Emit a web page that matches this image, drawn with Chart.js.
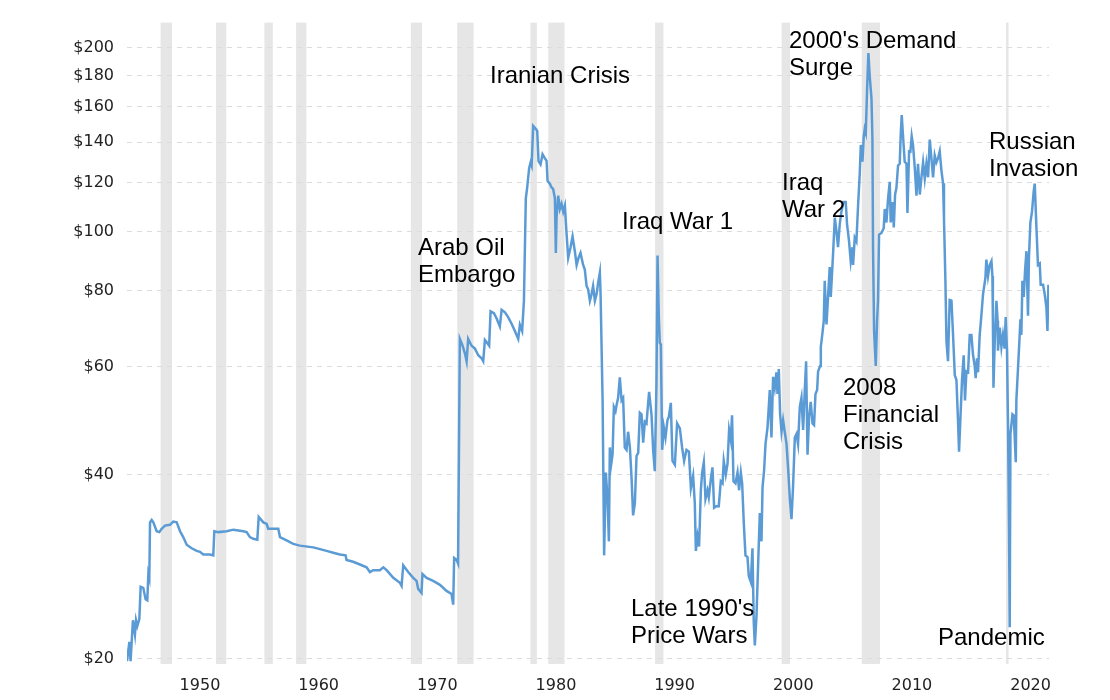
<!DOCTYPE html>
<html>
<head>
<meta charset="utf-8">
<script src="https://cdn.jsdelivr.net/npm/chart.js@4/dist/chart.umd.min.js"></script>
<style>
  html, body { margin: 0; padding: 0; background: #ffffff; }
  #wrap { width: 1110px; height: 700px; }
</style>
</head>
<body>
<div id="wrap"><canvas id="c" width="1110" height="700"></canvas></div>
<script>
// Decimal years of each observation
const years = [
  1946.0,1946.2,1946.3,1946.5,1946.67,1946.76,1946.87,1947.04,1947.15,1947.37,1947.57,1947.71,1947.8,1947.88,1947.94,
  1948.08,1948.22,1948.5,1948.72,1948.92,1949.2,1949.62,1949.9,1950.19,1950.47,1950.74,1951.03,1951.45,1951.87,
  1952.15,1952.43,1952.99,1953.27,1953.36,1953.69,1954.4,1954.96,1955.38,1955.8,1956.08,1956.36,1956.64,1956.98,
  1957.1,1957.49,1957.77,1957.9,1958.75,1958.89,1959.45,1960.01,1960.57,1961.7,1962.26,1962.82,1963.38,1963.94,
  1964.42,1964.5,1965.06,1965.63,1966.19,1966.47,1966.75,1967.31,1967.6,1967.88,1968.44,1969.0,1969.14,1969.28,
  1969.7,1970.12,1970.4,1970.54,1970.82,1970.9,1971.25,1971.8,1972.37,1972.93,1973.35,1973.49,1973.57,1973.77,1973.9,
  1974.05,1974.28,1974.48,1974.62,1974.75,1975.04,1975.32,1975.6,1975.88,1976.02,1976.16,1976.35,1976.52,1976.64,
  1976.92,1977.15,1977.42,1977.57,1977.85,1978.12,1978.41,1978.69,1978.97,1979.11,1979.3,1979.45,1979.61,1979.72,
  1979.89,1980.01,1980.1,1980.23,1980.46,1980.57,1980.68,1980.85,1981.02,1981.21,1981.36,1981.44,1981.64,1981.78,
  1981.91,1982.06,1982.14,1982.2,1982.34,1982.48,1982.62,1982.76,1982.9,1983.04,1983.18,1983.38,1983.55,1983.74,
  1983.89,1984.05,1984.22,1984.44,1984.58,1984.73,1984.86,1985.01,1985.15,1985.28,1985.43,1985.57,1985.71,1985.85,
  1985.91,1986.08,1986.21,1986.35,1986.5,1986.61,1986.69,1986.8,1986.92,1987.03,1987.17,1987.26,1987.39,1987.53,
  1987.68,1987.81,1987.95,1988.1,1988.23,1988.38,1988.52,1988.65,1988.8,1988.94,1989.08,1989.22,1989.36,1989.5,
  1989.64,1989.78,1989.92,1990.0,1990.2,1990.34,1990.48,1990.62,1990.71,1990.82,1990.9,1990.99,1991.1,1991.24,
  1991.38,1991.55,1991.66,1991.83,1991.97,1992.17,1992.36,1992.59,1992.78,1992.95,1993.15,1993.35,1993.52,1993.71,
  1993.85,1993.94,1994.08,1994.21,1994.36,1994.47,1994.61,1994.75,1994.92,1995.03,1995.2,1995.34,1995.48,1995.68,
  1995.87,1996.04,1996.19,1996.29,1996.46,1996.61,1996.74,1996.88,1996.99,1997.11,1997.28,1997.45,1997.58,1997.73,
  1997.84,1997.98,1998.12,1998.29,1998.4,1998.57,1998.71,1998.82,1998.91,1999.05,1999.19,1999.33,1999.47,1999.56,
  1999.69,1999.81,1999.98,2000.17,2000.31,2000.45,2000.59,2000.73,2000.82,2000.93,2001.04,2001.16,2001.29,2001.43,
  2001.58,2001.71,2001.86,2002.0,2002.13,2002.28,2002.42,2002.55,2002.7,2002.84,2002.98,2003.12,2003.23,2003.35,
  2003.48,2003.62,2003.77,2003.9,2004.02,2004.16,2004.24,2004.41,2004.47,2004.61,2004.72,2004.8,2004.95,2005.08,
  2005.22,2005.31,2005.5,2005.65,2005.79,2005.92,2006.07,2006.21,2006.38,2006.57,2006.68,2006.85,2006.99,2007.14,
  2007.19,2007.33,2007.47,2007.61,2007.75,2007.84,2007.98,2008.09,2008.17,2008.26,2008.37,2008.48,2008.59,2008.74,
  2008.82,2008.87,2008.96,2009.1,2009.21,2009.29,2009.38,2009.58,2009.77,2009.86,2010.0,2010.14,2010.28,2010.36,
  2010.51,2010.62,2010.73,2010.84,2010.98,2011.12,2011.21,2011.29,2011.4,2011.54,2011.69,2011.77,2011.91,2012.02,
  2012.13,2012.24,2012.39,2012.53,2012.66,2012.81,2012.95,2013.09,2013.23,2013.37,2013.51,2013.65,2013.79,2013.93,
  2014.07,2014.21,2014.35,2014.49,2014.63,2014.77,2014.85,2014.97,2015.06,2015.19,2015.33,2015.48,2015.61,2015.76,
  2015.9,2016.03,2016.12,2016.24,2016.37,2016.51,2016.62,2016.74,2016.88,2017.02,2017.16,2017.3,2017.44,2017.52,
  2017.63,2017.72,2017.86,2018.0,2018.14,2018.34,2018.42,2018.56,2018.7,2018.85,2018.93,2018.97,2019.02,2019.12,
  2019.27,2019.37,2019.4,2019.55,2019.69,2019.82,2019.96,2020.05,2020.16,2020.25,2020.33,2020.39,2020.45,2020.62,
  2020.73,2020.9,2020.95,2021.09,2021.23,2021.29,2021.37,2021.46,2021.57,2021.68,2021.8,2021.93,2022.01,2022.13,
  2022.27,2022.41,2022.5,2022.64,2022.77,2022.92,2023.0,2023.2,2023.34,2023.48,2023.57,2023.65
];

// Inflation-adjusted crude oil price (US$ per barrel)
const prices = [
  19.8,21.3,19.8,23.1,21.9,23.1,22.6,23.2,26.2,26.1,25.0,24.9,27.5,27.1,33.4,
  33.7,33.4,32.3,32.2,32.6,33.0,33.1,33.5,33.4,32.3,31.6,30.7,30.3,30.0,
  29.9,29.6,29.6,29.5,32.3,32.2,32.3,32.5,32.4,32.3,32.2,31.6,31.4,31.3,
  34.1,33.4,33.2,32.6,32.6,31.6,31.2,30.8,30.6,30.4,30.2,30.0,29.8,29.6,
  29.5,29.0,28.8,28.5,28.2,27.7,27.9,27.9,28.2,27.9,27.1,26.6,26.3,28.4,
  27.7,27.1,26.8,26.0,25.6,27.5,27.1,26.8,26.4,25.8,25.5,24.5,29.2,29.0,28.6,
  66.7,65.0,63.1,61.3,66.7,65.0,64.3,62.7,62.0,61.3,66.4,65.7,65.0,74.0,
  73.5,72.0,69.9,74.4,73.7,72.4,70.6,68.7,66.7,70.3,68.7,77.0,113.3,117.7,
  126.9,129.6,128.1,148.8,147.0,146.0,130.3,128.7,133.7,131.8,130.4,121.0,119.6,118.0,
  117.4,113.3,92.2,105.3,114.4,108.8,110.9,107.7,110.2,99.4,90.5,94.2,98.1,92.8,
  88.1,90.5,92.2,88.1,86.6,81.4,80.4,77.0,78.9,81.4,77.0,78.9,82.5,85.6,
  78.9,52.9,29.5,40.3,36.5,31.1,44.3,41.5,43.1,51.6,50.8,52.0,53.4,57.7,
  52.9,53.4,44.3,43.9,47.0,44.3,39.5,34.3,35.9,42.9,43.4,50.5,50.2,45.1,
  48.8,48.5,52.4,54.6,50.2,43.9,40.5,56.4,91.3,72.2,65.7,65.3,43.9,47.8,
  46.0,49.1,49.7,52.4,42.1,41.5,48.5,47.6,44.3,42.1,43.9,43.6,38.0,39.8,
  35.9,30.0,31.7,30.5,37.7,40.3,41.9,36.5,37.7,36.7,39.3,41.1,35.3,35.5,
  35.5,39.0,38.7,42.1,40.0,41.7,47.3,45.6,50.0,39.0,38.7,40.3,37.7,40.3,
  38.7,33.3,29.5,29.3,27.3,26.7,30.3,22.9,21.0,23.5,28.6,34.6,31.1,38.2,
  40.6,44.9,47.8,55.0,46.0,57.8,55.5,58.8,54.2,59.5,50.2,47.0,49.1,47.0,
  44.9,41.1,36.5,33.8,38.2,46.0,46.6,44.9,51.6,53.4,47.3,55.0,61.3,43.1,
  49.7,52.6,48.5,48.2,54.2,55.0,59.0,60.2,64.7,68.2,71.4,83.0,70.4,78.1,
  87.4,78.1,91.7,105.3,100.0,94.2,103.0,107.8,111.7,111.7,102.8,96.3,89.4,94.2,
  88.1,97.6,96.3,110.2,124.2,138.5,130.0,143.1,147.1,145.0,170.6,195.8,179.6,164.9,
  141.5,94.2,68.7,60.2,71.4,77.0,98.8,99.4,101.2,108.8,103.4,113.3,120.5,103.4,
  111.7,101.5,114.9,117.7,128.2,129.0,145.0,155.0,143.1,130.0,129.0,107.2,135.2,135.0,
  143.1,138.5,126.9,114.4,129.0,114.9,122.6,129.7,122.0,129.0,122.6,141.3,131.8,122.6,
  133.1,129.7,131.8,135.2,126.0,119.9,104.8,83.0,66.0,61.3,77.2,77.0,68.0,58.2,
  57.1,49.1,43.6,49.7,57.1,62.7,52.9,59.0,58.8,67.7,67.7,62.7,60.2,57.5,
  62.0,58.8,67.7,72.8,78.9,83.9,89.9,84.5,88.1,89.4,84.5,72.0,55.5,65.3,
  77.0,71.4,63.8,69.6,64.7,67.7,64.3,72.4,63.8,47.8,32.8,22.5,46.6,50.2,
  50.0,41.9,52.9,59.8,67.7,71.8,67.7,83.0,78.1,86.1,92.8,72.8,90.5,103.4,
  107.8,116.4,119.7,101.5,88.1,88.6,81.8,81.8,78.9,75.1,68.7,81.8
];

// NBER recessions (decimal years)
const recessionStart = [1948.83,1953.5,1957.58,1960.25,1969.92,1973.83,1980.0,1981.5,1990.5,2001.17,2007.92,2020.08];
const recessionEnd   = [1949.79,1954.37,1958.29,1961.12,1970.87,1975.21,1980.54,1982.87,1991.21,2001.87,2009.46,2020.29];

// Axis tick labels
const yearTicks  = [1950,1960,1970,1980,1990,2000,2010,2020];
const priceTicks = [20,40,60,80,100,120,140,160,180,200];

// Event annotations
const annotationLines = [
  ["Arab Oil","Embargo"],
  ["Iranian Crisis"],
  ["Iraq War 1"],
  ["Iraq","War 2"],
  ["2000's Demand","Surge"],
  ["2008","Financial","Crisis"],
  ["Russian","Invasion"],
  ["Late 1990's","Price Wars"],
  ["Pandemic"]
];
// pixel placement of each annotation block (left x, first baseline y)
const annotationPlace = [
  [418,255],[490,83],[622,229],[782,190],[789,47.5],[843,394.5],[989,149],[631,615.5],[938,645]
];

const bandsPlugin = {
  id: 'bands',
  beforeDraw(chart) {
    const {ctx, chartArea, scales} = chart;
    ctx.save();
    ctx.fillStyle = '#e6e6e6';
    for (let i = 0; i < recessionStart.length; i++) {
      const x0 = scales.x.getPixelForValue(recessionStart[i]);
      const x1 = scales.x.getPixelForValue(recessionEnd[i]);
      ctx.fillRect(x0, chartArea.top, Math.max(2, x1 - x0), chartArea.bottom - chartArea.top);
    }
    ctx.restore();
  }
};

const textPlugin = {
  id: 'eventText',
  afterDatasetsDraw(chart) {
    const ctx = chart.ctx;
    ctx.save();
    ctx.font = '24px "Liberation Sans", Arial, sans-serif';
    ctx.fillStyle = '#000000';
    ctx.textAlign = 'left';
    ctx.textBaseline = 'alphabetic';
    annotationLines.forEach((lines, i) => {
      const [x, y] = annotationPlace[i];
      lines.forEach((t, j) => ctx.fillText(t, x, y + j * 27));
    });
    ctx.restore();
  }
};

new Chart(document.getElementById('c'), {
  type: 'line',
  data: {
    datasets: [{
      data: years.map((yr, i) => ({x: yr, y: prices[i]})),
      borderColor: '#5b9bd5',
      borderWidth: 2.5,
      pointRadius: 0,
      tension: 0,
      fill: false
    }]
  },
  options: {
    responsive: false,
    animation: false,
    devicePixelRatio: 1,
    layout: { padding: { left: 0, right: 61, top: 20, bottom: 0 } },
    plugins: { legend: { display: false }, tooltip: { enabled: false } },
    scales: {
      x: {
        type: 'linear',
        min: 1946,
        max: 2023.7,
        afterBuildTicks(scale) { scale.ticks = yearTicks.map(v => ({value: v})); },
        afterFit(scale) { scale.height = 36; },
        grid: { display: false, drawTicks: false },
        border: { display: false },
        ticks: {
          autoSkip: false,
          maxRotation: 0,
          labelOffset: 25.5,
          padding: 12,
          color: '#222222',
          font: { family: '"DejaVu Sans", Verdana, sans-serif', size: 16 },
          callback: v => String(v)
        }
      },
      y: {
        type: 'logarithmic',
        min: 19.59,
        max: 219.6,
        afterBuildTicks(scale) { scale.ticks = priceTicks.map(v => ({value: v})); },
        afterFit(scale) { scale.width = 127; },
        grid: { color: '#dcdcdc', lineWidth: 1, drawTicks: false },
        border: { display: false, dash: [5, 5] },
        ticks: {
          padding: 13,
          color: '#222222',
          font: { family: '"DejaVu Sans", Verdana, sans-serif', size: 16 },
          callback: v => '$' + v
        }
      }
    }
  },
  plugins: [bandsPlugin, textPlugin]
});
</script>
</body>
</html>
